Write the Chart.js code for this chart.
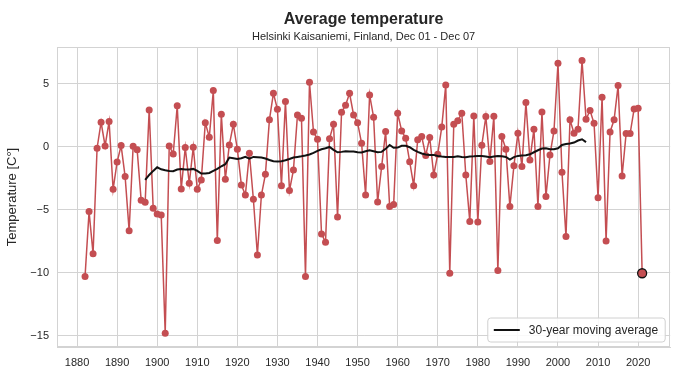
<!DOCTYPE html>
<html>
<head>
<meta charset="utf-8">
<script src="https://cdn.jsdelivr.net/npm/chart.js@4.4.1/dist/chart.umd.min.js"></script>
<style>
  html, body { margin: 0; padding: 0; background: #fff; }
  #wrap { width: 676px; height: 380px; }
</style>
</head>
<body>
<div id="wrap"><canvas id="chart-temp" width="676" height="380"></canvas></div>
<script>
var firstYear = 1882;
// Dec 01 - Dec 07 mean temperature, one value per year 1882..2021
var temps = [
  -10.3, -5.16, -8.5, -0.13, 1.93, 0.05, 1.98, -3.39,
  -1.22, 0.08, -2.38, -6.67, 0.03, -0.26, -4.26, -4.42, 2.91, -4.89,
  -5.34, -5.42, -14.8, 0.05, -0.58, 3.23, -3.36, -0.08, -2.91, -0.05,
  -3.39, -2.65, 1.9, 0.74, 4.44, -7.46, 2.57, -2.59, 0.13, 1.77,
  -0.21, -3.04, -3.84, -0.53, -4.18, -8.6, -3.84, -2.2, 2.12, 4.23,
  2.96, -3.1, 3.57, -3.49, -1.85, 2.51, 2.25, -10.3, 5.1, 1.16,
  0.58, -6.93, -7.59, 0.63, 1.77, -5.58, 2.72, 3.28, 4.23, 2.51,
  1.9, 0.26, -3.84, 4.1, 2.33, -4.39, -1.59, 1.19, -4.76, -4.6,
  2.65, 1.24, 0.66, -1.2, -3.1, 0.55, 0.79, -0.7, 0.72, -2.25,
  -0.6, 1.55, 4.89, -10.05, 1.77, 2.04, 2.65, -2.25, -5.95, 2.43,
  -5.98, 0.11, 2.38, -1.19, 2.41, -9.84, 0.79, -0.21, -4.76, -1.53,
  1.06, -1.59, 3.49, -1.06, 1.38, -4.76, 2.75, -3.97, -0.66, 1.24,
  6.61, -2.04, -7.14, 2.12, 1.06, 1.38, 6.83, 2.17, 2.86, 1.85,
  -4.05, 3.92, -7.49, 1.16, 2.12, 4.84, -2.33, 1.03, 1.03, 2.99,
  3.04, -10.05
];
var maStart = 1897;
// 30-year moving average, 1897..2007
var movingAvg = [
  -2.65, -2.25, -1.93,
  -1.64, -1.8, -1.88, -1.93, -1.96, -1.82, -1.77, -1.82, -1.82, -1.77,
  -1.93, -2.14, -2.14, -2.09, -1.93, -1.77, -1.56, -1.4, -0.87, -0.92,
  -0.98, -0.92, -0.82, -0.95, -0.82, -0.84, -0.87, -0.95, -1.06, -1.16,
  -1.19, -1.16, -1.08, -0.98, -0.87, -0.82, -0.77, -0.71, -0.63, -0.5,
  -0.34, -0.21, -0.13, -0.03, -0.26, -0.45, -0.42, -0.37, -0.39, -0.39,
  -0.45, -0.47, -0.37, -0.29, -0.37, -0.45, -0.42, -0.18, 0.13, -0.1,
  -0.08, 0.06, 0.06, -0.05, -0.26, -0.42, -0.55, -0.63, -0.66, -0.66,
  -0.74, -0.79, -0.82, -0.82, -0.82, -0.77, -0.82, -0.84, -0.79, -0.77,
  -0.74, -0.74, -0.79, -0.84, -0.79, -0.74, -0.77, -0.82, -1.03, -0.84,
  -0.74, -0.71, -0.69, -0.61, -0.45, -0.29, -0.16, -0.13, -0.21, -0.21,
  -0.13, 0.13, 0.21, 0.24, 0.32, 0.48, 0.58, 0.35
];
var xTicks = [1880, 1890, 1900, 1910, 1920, 1930, 1940, 1950, 1960, 1970, 1980, 1990, 2000, 2010, 2020];
var yTicks = [-15, -10, -5, 0, 5];

var titleText = 'Average temperature';
var subtitleText = 'Helsinki Kaisaniemi, Finland, Dec 01 - Dec 07';
var maLabel = '30-year moving average';

var red = '#c44e52';
var gridColor = '#d3d3d3';
var fontFamily = "'Liberation Sans', Arial, sans-serif";

Chart.defaults.font.family = fontFamily;
Chart.defaults.color = '#262626';

var titles = {
  id: 'titles',
  afterDraw: function (chart) {
    var ctx = chart.ctx;
    var cx = (chart.chartArea.left + chart.chartArea.right) / 2;
    ctx.save();
    ctx.fillStyle = '#262626';
    ctx.textAlign = 'center';
    ctx.textBaseline = 'alphabetic';
    ctx.font = 'bold 16px ' + fontFamily;
    ctx.fillText(titleText, cx, 24);
    ctx.font = '11px ' + fontFamily;
    ctx.fillText(subtitleText, cx, 40);
    ctx.restore();
  },
};

// light frame round the whole plot (chart.js only draws left/bottom borders)
var frame = {
  id: 'frame',
  beforeDatasetsDraw: function (chart) {
    var a = chart.chartArea;
    var ctx = chart.ctx;
    ctx.save();
    ctx.strokeStyle = gridColor;
    ctx.lineWidth = 1;
    ctx.strokeRect(Math.round(a.left) + 0.5, Math.round(a.top) + 0.5,
      Math.round(a.right - a.left) - 1, Math.round(a.bottom - a.top) - 1);
    ctx.restore();
  },
};

// legend box drawn in the lower right corner of the plot
var innerLegend = {
  id: 'innerLegend',
  afterDraw: function (chart) {
    var ctx = chart.ctx;
    var area = chart.chartArea;
    ctx.save();
    ctx.font = '12px ' + fontFamily;
    var tw = ctx.measureText(maLabel).width;
    var w = 6 + 26 + 9 + tw + 7;
    var h = 24;
    var x = area.right - 5 - w;
    var y = area.bottom - 5 - h;
    ctx.beginPath();
    ctx.roundRect(x, y, w, h, 3);
    ctx.fillStyle = 'rgba(255,255,255,0.85)';
    ctx.fill();
    ctx.strokeStyle = '#d0d0d0';
    ctx.lineWidth = 1;
    ctx.stroke();
    ctx.beginPath();
    ctx.moveTo(x + 6, y + h / 2);
    ctx.lineTo(x + 32, y + h / 2);
    ctx.strokeStyle = '#111';
    ctx.lineWidth = 2;
    ctx.stroke();
    ctx.fillStyle = '#262626';
    ctx.textBaseline = 'middle';
    ctx.fillText(maLabel, x + 41, y + h / 2 + 1);
    ctx.restore();
  },
};

var ctx = document.getElementById('chart-temp').getContext('2d');
var chart = new Chart(ctx, {
  type: 'line',
  plugins: [titles, frame, innerLegend],
  data: {
    datasets: [
      {
        label: maLabel,
        data: movingAvg.map((v, i) => ({ x: maStart + i, y: v })),
        borderColor: '#111',
        borderWidth: 2,
        pointRadius: 0,
        tension: 0,
        order: 0,
      },
      {
        label: 'Temperature',
        data: temps.map((v, i) => ({ x: firstYear + i, y: v })),
        borderColor: red,
        backgroundColor: red,
        borderWidth: 1.5,
        pointRadius: (c) => (c.dataIndex === temps.length - 1 ? 4.5 : 3.5),
        pointBorderWidth: (c) => (c.dataIndex === temps.length - 1 ? 1.3 : 0),
        pointBorderColor: (c) => (c.dataIndex === temps.length - 1 ? '#111' : red),
        pointBackgroundColor: red,
        tension: 0,
        order: 1,
      },
    ],
  },
  options: {
    responsive: false,
    animation: false,
    devicePixelRatio: 1,
    layout: { padding: { top: 47, right: 5, bottom: 0, left: 0 } },
    plugins: {
      legend: { display: false },
      tooltip: { enabled: false },
    },
    scales: {
      x: {
        type: 'linear',
        min: 1875,
        max: 2028,
        afterBuildTicks: (scale) => {
          scale.ticks = xTicks.map((v) => ({ value: v }));
        },
        afterFit: (scale) => {
          scale.height = 33;
        },
        grid: { color: gridColor, lineWidth: 1, drawTicks: false },
        border: { color: gridColor, width: 1 },
        ticks: {
          padding: 9,
          font: { size: 11 },
          maxRotation: 0,
          callback: (v) => String(v),
        },
      },
      y: {
        min: -15.9,
        max: 7.9,
        afterBuildTicks: (scale) => {
          scale.ticks = yTicks.map((v) => ({ value: v }));
        },
        afterFit: (scale) => {
          scale.width = 57;
        },
        grid: { color: gridColor, lineWidth: 1, drawTicks: false },
        border: { color: gridColor, width: 1 },
        ticks: {
          padding: 8,
          font: { size: 11 },
          callback: (v) => String(v).replace('-', '\u2212'),
        },
        title: {
          display: true,
          text: 'Temperature [C\u00b0]',
          font: { size: 13 },
          padding: { top: 5, bottom: 0 },
        },
      },
    },
  },
});
</script>
</body>
</html>
